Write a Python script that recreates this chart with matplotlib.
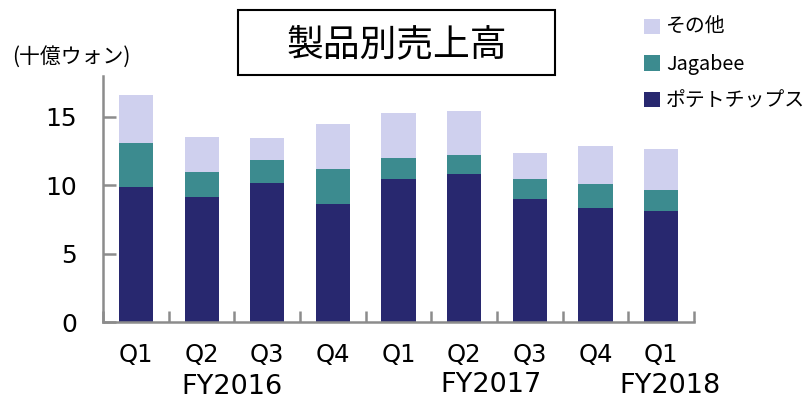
import matplotlib.pyplot as plt
import numpy as np
from matplotlib.patches import Rectangle

plt.rcParams['font.family'] = ['DejaVu Sans', 'Noto Sans CJK JP']

# quarterly sales by product (KRW billion)
quarters = ['Q1', 'Q2', 'Q3', 'Q4', 'Q1', 'Q2', 'Q3', 'Q4', 'Q1']
potato_chips = [9.9, 9.15, 10.15, 8.65, 10.5, 10.8, 9.0, 8.35, 8.1]
jagabee = [3.2, 1.85, 1.7, 2.55, 1.5, 1.45, 1.45, 1.75, 1.6]
others = [3.5, 2.55, 1.6, 3.25, 3.3, 3.15, 1.95, 2.75, 2.95]
fy_labels = ['FY2016', 'FY2017', 'FY2018']
fy_pos = [1.47, 5.41, 8.13]
fy_y = [-0.262, -0.252, -0.256]

c_potato = '#28286f'
c_jag = '#3c8b8f'
c_other = '#cfd0ee'
jp = ['Noto Sans CJK JP', 'DejaVu Sans']

fig = plt.figure(figsize=(8.06, 4.01), dpi=100)
ax = fig.add_axes([0.128, 0.196, 0.733, 0.615])

x = np.arange(len(quarters))
w = 0.52
b1 = ax.bar(x, potato_chips, w, color=c_potato, label='ポテトチップス')
b2 = ax.bar(x, jagabee, w, bottom=potato_chips, color=c_jag, label='Jagabee')
bottom2 = np.array(potato_chips) + np.array(jagabee)
b3 = ax.bar(x, others, w, bottom=bottom2, color=c_other, label='その他')

ax.set_xlim(-0.5, len(quarters) - 0.5)
ax.set_ylim(0, 18)
ax.set_yticks([0, 5, 10, 15])
ax.set_xticks(x)
ax.set_xticklabels(quarters, family='DejaVu Sans')
ax.set_xticks(np.arange(-0.5, len(quarters)), minor=True)
for t in ax.get_yticklabels():
    t.set_family('DejaVu Sans')

for s in ['top', 'right']:
    ax.spines[s].set_visible(False)
for s in ['left', 'bottom']:
    ax.spines[s].set_color('#8c8c8c')
    ax.spines[s].set_linewidth(1.8)

ax.tick_params(axis='y', direction='in', length=9, width=1.8, color='#8c8c8c',
               labelsize=18, pad=19)
ax.tick_params(axis='x', which='major', length=0, labelsize=17.5, pad=15)
ax.tick_params(axis='x', which='minor', direction='in', length=8, width=1.8,
               color='#8c8c8c')

for lbl, p, yy in zip(fy_labels, fy_pos, fy_y):
    ax.text(p, yy, lbl, transform=ax.get_xaxis_transform(), ha='center',
            va='center', fontsize=19.5, family='DejaVu Sans')

fig.text(0.015, 0.858, '(十億ウォン)', fontsize=15, va='center', ha='left',
         family=jp)

# title box
fig.patches.append(Rectangle((238 / 806, 1 - 75 / 401), 317 / 806, 65 / 401,
                             transform=fig.transFigure, fill=False,
                             ec='black', lw=1.5))
fig.text(396.5 / 806, 1 - 45 / 401, '製品別売上高', fontsize=26.5, ha='center',
         va='center', family=jp)

leg = fig.legend(handles=[b3, b2, b1], loc='upper left',
                 bbox_to_anchor=(644 / 806, 1 - 17 / 401), frameon=False,
                 borderpad=0, borderaxespad=0,
                 handlelength=0.8, handleheight=0.8, handletextpad=0.3,
                 labelspacing=0.8, prop={'family': jp, 'size': 14.3})

fig.savefig('out.png', dpi=100)
